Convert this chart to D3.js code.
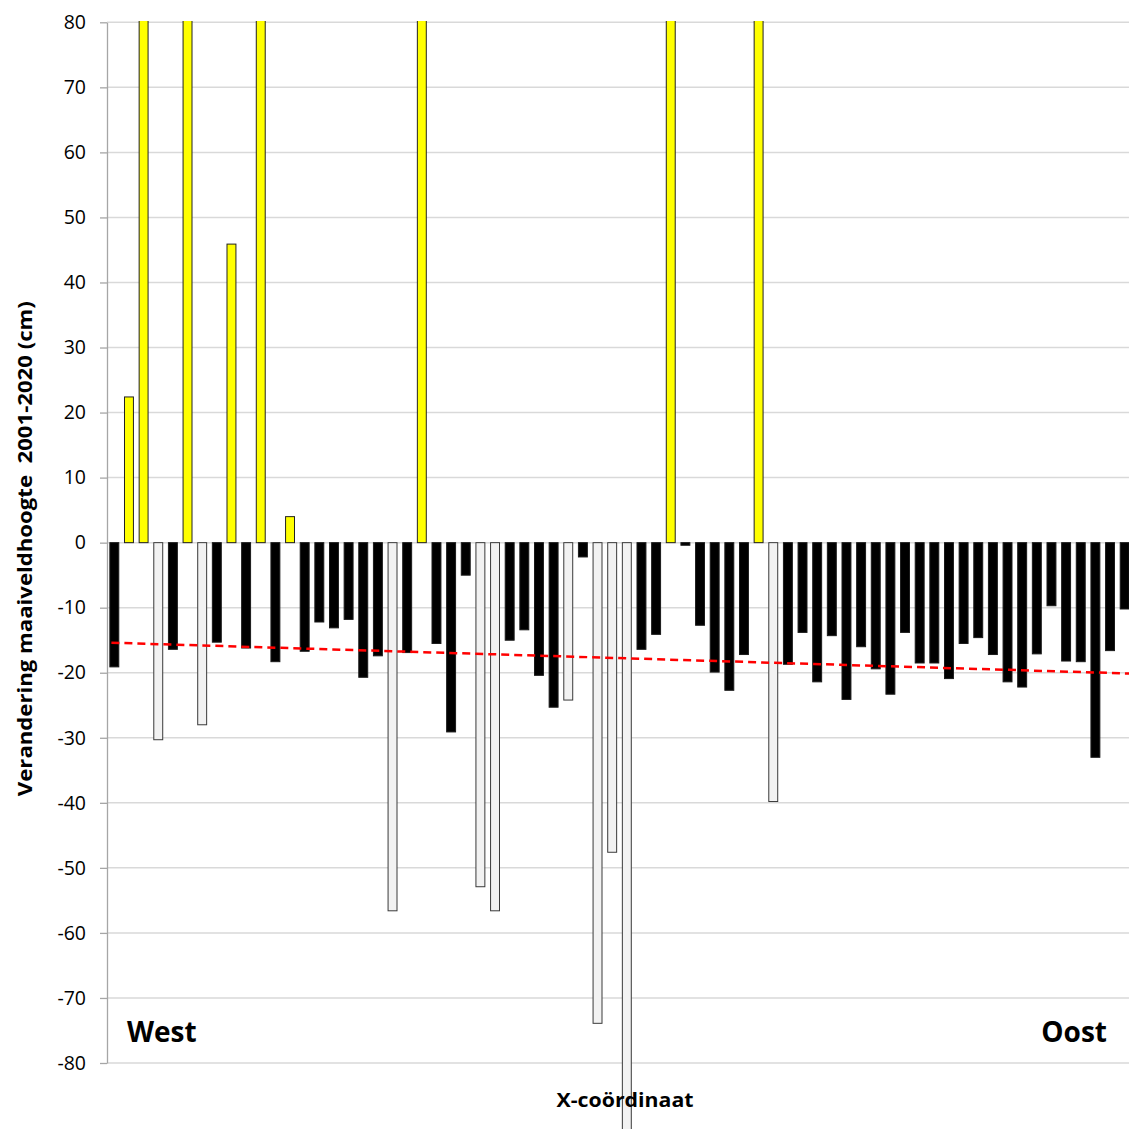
<!DOCTYPE html>
<html>
<head>
<meta charset="utf-8">
<script src="https://cdn.jsdelivr.net/npm/d3@7"></script>
<style>
  html, body { margin: 0; padding: 0; background: #fff; }
  svg { display: block; }
  text { font-family: "Open Sans", "Noto Sans", sans-serif; }
</style>
</head>
<body>
<svg id="chart" width="1129" height="1129"></svg>
<script>
// Change in ground level 2001-2020 (cm), west -> east; off-scale bars given as estimates
const values = [-19.1, 22.4, 85, -30.3, -16.4, 85, -28.0, -15.3, 45.9, -16.2,
                85, -18.3, 4.0, -16.7, -12.2, -13.1, -11.8, -20.7, -17.4, -56.6,
                -16.9, 85, -15.5, -29.1, -5.0, -52.9, -56.6, -15.0, -13.4, -20.4,
                -25.3, -24.2, -2.2, -73.9, -47.6, -90.3, -16.4, -14.1, 85, -0.4,
                -12.7, -19.9, -22.7, -17.2, 85, -39.8, -18.7, -13.8, -21.4, -14.3,
                -24.1, -16.0, -19.4, -23.3, -13.8, -18.5, -18.5, -20.9, -15.5, -14.6,
                -17.2, -21.4, -22.2, -17.1, -9.7, -18.2, -18.3, -33.0, -16.6, -10.2];
// b = black, y = yellow, w = white
const types = ["b","y","y","w","b","y","w","b","y","b",
               "y","b","y","b","b","b","b","b","b","w",
               "b","y","b","b","b","w","w","b","b","b",
               "b","w","b","w","w","w","b","b","y","b",
               "b","b","b","b","y","w","b","b","b","b",
               "b","b","b","b","b","b","b","b","b","b",
               "b","b","b","b","b","b","b","b","b","b"];
const categories = values.map((v, i) => "P" + (i + 1));
const trendValues = [-15.4, -20.1]; // linear trend at first and last point
const yTicks = [80, 70, 60, 50, 40, 30, 20, 10, 0, -10, -20, -30, -40, -50, -60, -70, -80];
const yTitle = "Verandering maaiveldhoogte  2001-2020 (cm)";
const xTitle = "X-coördinaat";
const sideLabels = ["West", "Oost"];

const fills = { b: "#000000", y: "#ffff00", w: "#f2f2f2" };
const strokes = { b: "#1a1a1a", y: "#222222", w: "#3a3a3a" };

const svg = d3.select("#chart");
const pL = 107, pR = 1132, pT = 22.3, pB = 1063;

const x = d3.scaleBand().domain(categories).range([pL, pR])
  .paddingInner(0.39).paddingOuter(0.195);
const y = d3.scaleLinear().domain([-80, 80]).range([pB, pT]);

// gridlines
svg.append("g").selectAll("line").data(yTicks).join("line")
  .attr("x1", pL).attr("x2", pR)
  .attr("y1", d => y(d)).attr("y2", d => y(d))
  .attr("stroke", "#d9d9d9").attr("stroke-width", 1.5);

// axis
const axis = svg.append("g").attr("transform", `translate(${pL},0)`)
  .call(d3.axisLeft(y).tickValues(yTicks).tickSize(7).tickSizeOuter(0).tickPadding(14)
    .tickFormat(d => String(d)));
axis.select(".domain").attr("stroke", "#a6a6a6").attr("stroke-width", 1.3);
axis.selectAll(".tick line").attr("stroke", "#a6a6a6").attr("stroke-width", 1.3);
axis.selectAll(".tick text").attr("font-size", 19.5).attr("fill", "#000")
  .attr("font-family", "'Open Sans', sans-serif");

// clip for off-scale tops
svg.append("clipPath").attr("id", "clip").append("rect")
  .attr("x", 0).attr("y", pT - 1.3).attr("width", 1129).attr("height", 1200);

svg.append("g").attr("clip-path", "url(#clip)")
  .selectAll("rect").data(values).join("rect")
  .attr("x", (d, i) => x(categories[i]))
  .attr("width", x.bandwidth())
  .attr("y", d => y(Math.max(0, d)))
  .attr("height", d => Math.abs(y(d) - y(0)))
  .attr("fill", (d, i) => fills[types[i]])
  .attr("stroke", (d, i) => strokes[types[i]])
  .attr("stroke-width", 1);

// trend line (linear through first/last point values, extended slightly to plot edges)
const n = categories.length;
const xIdx = d3.scaleLinear().domain([0, n - 1])
  .range([x(categories[0]) + x.bandwidth() / 2, x(categories[n - 1]) + x.bandwidth() / 2]);
const trend = d3.scaleLinear().domain([0, n - 1]).range(trendValues);
const i0 = -0.2, i1 = n - 0.5;
svg.append("line")
  .attr("x1", xIdx(i0)).attr("y1", y(trend(i0)))
  .attr("x2", xIdx(i1)).attr("y2", y(trend(i1)))
  .attr("stroke", "#ff0000").attr("stroke-width", 2.5)
  .attr("stroke-dasharray", "8,5");

// titles
svg.append("text")
  .attr("transform", `translate(32,${(pT + pB) / 2 + 6}) rotate(-90)`)
  .attr("text-anchor", "middle").attr("font-weight", "bold").attr("font-size", 20)
  .attr("textLength", 495).attr("lengthAdjust", "spacingAndGlyphs")
  .style("white-space", "pre")
  .text(yTitle);

svg.append("text")
  .attr("x", 625).attr("y", 1107)
  .attr("text-anchor", "middle").attr("font-weight", "bold").attr("font-size", 20)
  .attr("textLength", 137).attr("lengthAdjust", "spacingAndGlyphs")
  .text(xTitle);

svg.append("text").attr("x", 127).attr("y", 1042)
  .attr("font-weight", "bold").attr("font-size", 28).text(sideLabels[0]);
svg.append("text").attr("x", 1107).attr("y", 1042).attr("text-anchor", "end")
  .attr("font-weight", "bold").attr("font-size", 28).text(sideLabels[1]);
</script>
</body>
</html>
